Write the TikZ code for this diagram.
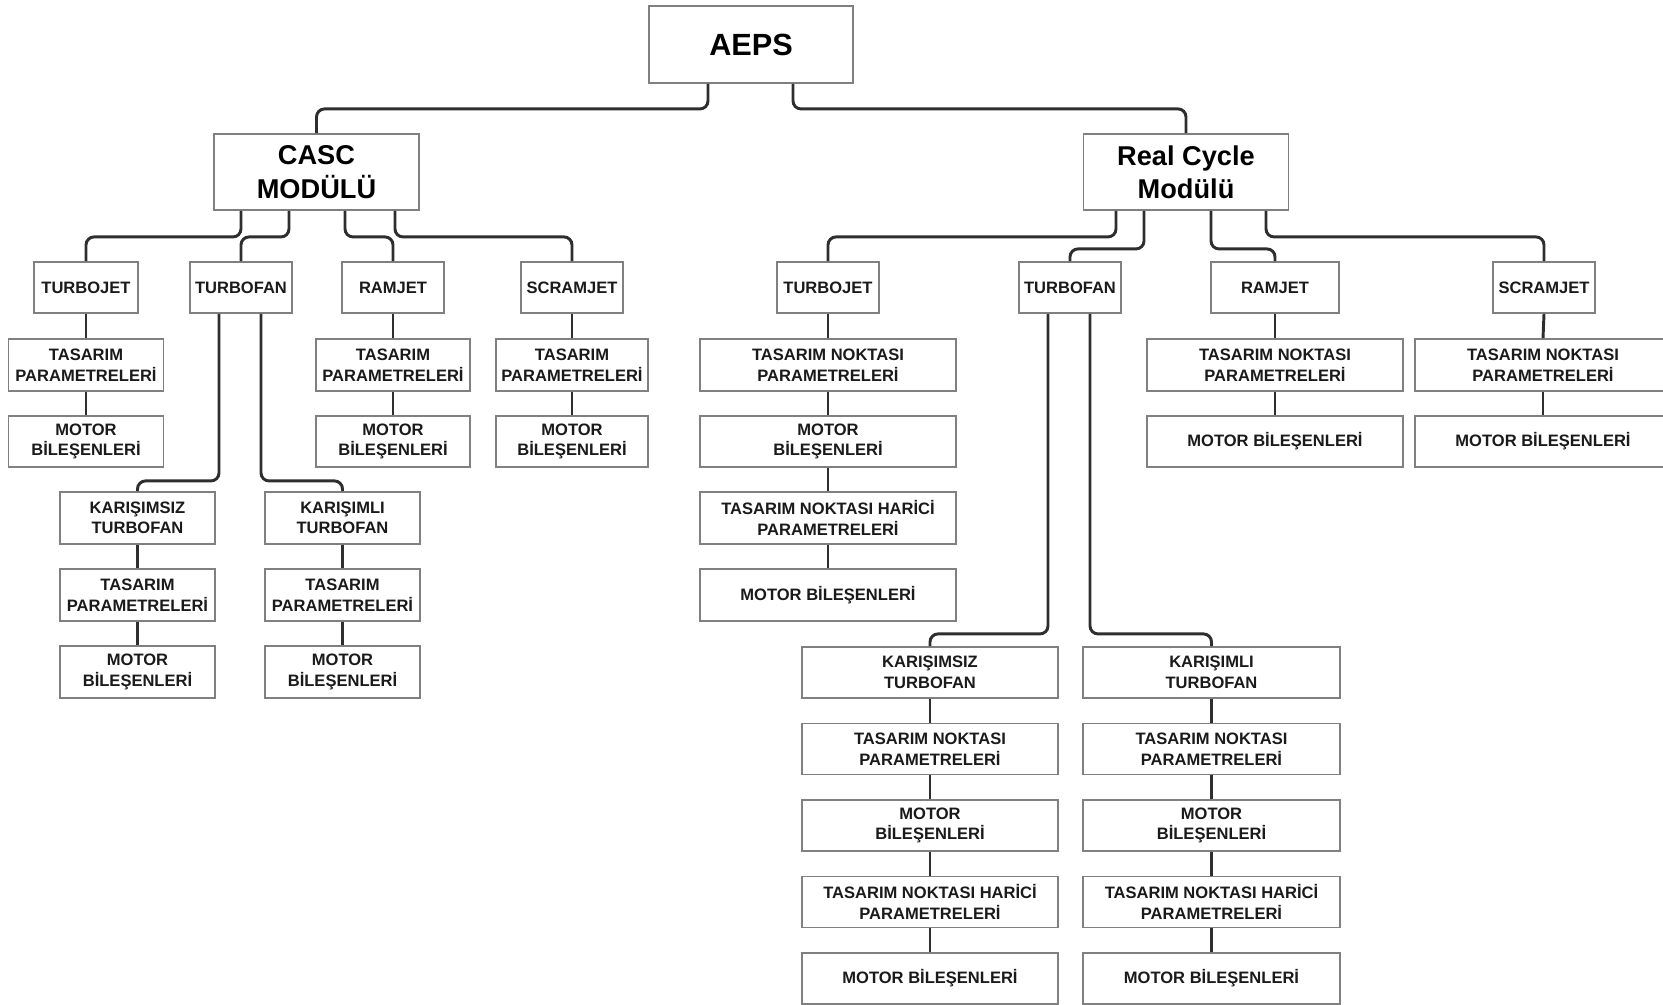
\documentclass[tikz,border=0pt]{standalone}
\usepackage{fontspec}
\setmainfont{Liberation Sans}
\usetikzlibrary{calc}
\definecolor{boxline}{HTML}{808080}
\definecolor{wire}{HTML}{2E2E2E}
\definecolor{ink}{HTML}{1A1A1A}
\begin{document}
\begin{tikzpicture}[x=0.75pt,y=-0.75pt,
  box/.style={draw=boxline, line width=1.4pt, fill=white, rectangle, align=center,
    inner sep=0pt, text=ink, font=\bfseries\fontsize{12.4}{15.4}\selectfont},
  bx/.style 2 args={box, minimum width=#1*0.75pt, minimum height=#2*0.75pt},
  topbox/.style={bx={205}{76}, text=black, font=\bfseries\fontsize{20.4}{25}\selectfont},
  wire/.style={draw=wire, line width=2.2pt, rounded corners=6pt}]
\useasboundingbox (0,0) rectangle (1663,1005);

% ---- top levels
\node[bx={204}{77}, text=black, font=\bfseries\fontsize{23}{28}\selectfont] (aeps) at (751,44.5) {AEPS};
\node[topbox] (casc) at (316.5,172) {CASC\\MODÜLÜ};
\node[topbox] (real) at (1186,172) {Real Cycle\\Modülü};

% ---- CASC module engines
\node[bx={104}{51}] (ctj) at (86,287.5) {TURBOJET};
\node[bx={102}{51}] (ctf) at (241,287.5) {TURBOFAN};
\node[bx={102}{51}] (crj) at (393,287.5) {RAMJET};
\node[bx={102}{51}] (csj) at (572,287.5) {SCRAMJET};

\node[bx={155}{52}] (ctjA) at (86,365) {TASARIM\\PARAMETRELERİ};
\node[bx={155}{51}] (ctjB) at (86,441.5) {MOTOR\\BİLEŞENLERİ};
\node[bx={154}{52}] (crjA) at (393,365) {TASARIM\\PARAMETRELERİ};
\node[bx={154}{51}] (crjB) at (393,441.5) {MOTOR\\BİLEŞENLERİ};
\node[bx={152}{52}] (csjA) at (572,365) {TASARIM\\PARAMETRELERİ};
\node[bx={152}{51}] (csjB) at (572,441.5) {MOTOR\\BİLEŞENLERİ};

\node[bx={155}{52}] (ckz)  at (137.5,518) {KARIŞIMSIZ\\TURBOFAN};
\node[bx={155}{52}] (ckzA) at (137.5,595) {TASARIM\\PARAMETRELERİ};
\node[bx={155}{52}] (ckzB) at (137.5,672) {MOTOR\\BİLEŞENLERİ};
\node[bx={155}{52}] (ckl)  at (342.5,518) {KARIŞIMLI\\TURBOFAN};
\node[bx={155}{52}] (cklA) at (342.5,595) {TASARIM\\PARAMETRELERİ};
\node[bx={155}{52}] (cklB) at (342.5,672) {MOTOR\\BİLEŞENLERİ};

% ---- Real Cycle module engines
\node[bx={102}{51}] (rtj) at (828,287.5) {TURBOJET};
\node[bx={102}{51}] (rtf) at (1070,287.5) {TURBOFAN};
\node[bx={128}{51}] (rrj) at (1275,287.5) {RAMJET};
\node[bx={102}{51}] (rsj) at (1544,287.5) {SCRAMJET};

\node[bx={256}{52}] (rtjA) at (828,365) {TASARIM NOKTASI\\PARAMETRELERİ};
\node[bx={256}{51}] (rtjB) at (828,441.5) {MOTOR\\BİLEŞENLERİ};
\node[bx={256}{52}] (rtjC) at (828,518) {TASARIM NOKTASI HARİCİ\\PARAMETRELERİ};
\node[bx={256}{52}] (rtjD) at (828,595) {MOTOR BİLEŞENLERİ};

\node[bx={256}{52}] (rrjA) at (1275,365) {TASARIM NOKTASI\\PARAMETRELERİ};
\node[bx={256}{51}] (rrjB) at (1275,441.5) {MOTOR BİLEŞENLERİ};
\node[bx={256}{52}] (rsjA) at (1543,365) {TASARIM NOKTASI\\PARAMETRELERİ};
\node[bx={256}{51}] (rsjB) at (1543,441.5) {MOTOR BİLEŞENLERİ};

\node[bx={256}{51}] (rkz)  at (930,672.5) {KARIŞIMSIZ\\TURBOFAN};
\node[bx={256}{51}] (rkzA) at (930,749) {TASARIM NOKTASI\\PARAMETRELERİ};
\node[bx={256}{51}] (rkzB) at (930,825.5) {MOTOR\\BİLEŞENLERİ};
\node[bx={256}{51}] (rkzC) at (930,902) {TASARIM NOKTASI HARİCİ\\PARAMETRELERİ};
\node[bx={256}{51}] (rkzD) at (930,978.5) {MOTOR BİLEŞENLERİ};
\node[bx={257}{51}] (rkl)  at (1211.5,672.5) {KARIŞIMLI\\TURBOFAN};
\node[bx={257}{51}] (rklA) at (1211.5,749) {TASARIM NOKTASI\\PARAMETRELERİ};
\node[bx={257}{51}] (rklB) at (1211.5,825.5) {MOTOR\\BİLEŞENLERİ};
\node[bx={257}{51}] (rklC) at (1211.5,902) {TASARIM NOKTASI HARİCİ\\PARAMETRELERİ};
\node[bx={257}{51}] (rklD) at (1211.5,978.5) {MOTOR BİLEŞENLERİ};

% ---- elbow connectors
\draw[wire] ($(aeps.south)+(-43,0)$) -- ++(0,25) -| (casc.north);
\draw[wire] ($(aeps.south)+(42,0)$) -- ++(0,25) -| (real.north);

\draw[wire] ($(casc.south)+(-75.5,0)$) -- ++(0,26) -| (ctj.north);
\draw[wire] ($(casc.south)+(-27.5,0)$) -- ++(0,26) -| (ctf.north);
\draw[wire] ($(casc.south)+(28.5,0)$) -- ++(0,26) -| (crj.north);
\draw[wire] ($(casc.south)+(78.5,0)$) -- ++(0,26) -| (csj.north);

\draw[wire] ($(real.south)+(-70,0)$) -- ++(0,26) -| (rtj.north);
\draw[wire] ($(real.south)+(-42,0)$) -- ++(0,38) -| (rtf.north);
\draw[wire] ($(real.south)+(25,0)$) -- ++(0,38) -| (rrj.north);
\draw[wire] ($(real.south)+(80,0)$) -- ++(0,26) -| (rsj.north);

\draw[wire] ($(ctf.south)+(-22,0)$) -- ++(0,167) -| (ckz.north);
\draw[wire] ($(ctf.south)+(20,0)$) -- ++(0,167) -| (ckl.north);
\draw[wire] ($(rtf.south)+(-22,0)$) -- ++(0,320) -| (rkz.north);
\draw[wire] ($(rtf.south)+(20,0)$) -- ++(0,320) -| (rkl.north);

% ---- straight chains
\foreach \a/\b in {ctj/ctjA, ctjA/ctjB, crj/crjA, crjA/crjB, csj/csjA, csjA/csjB,
  ckz/ckzA, ckzA/ckzB, ckl/cklA, cklA/cklB,
  rtj/rtjA, rtjA/rtjB, rtjB/rtjC, rtjC/rtjD,
  rrj/rrjA, rrjA/rrjB, rsj/rsjA, rsjA/rsjB,
  rkz/rkzA, rkzA/rkzB, rkzB/rkzC, rkzC/rkzD,
  rkl/rklA, rklA/rklB, rklB/rklC, rklC/rklD}
  \draw[wire] (\a.south) -- (\b.north);
\end{tikzpicture}
\end{document}
